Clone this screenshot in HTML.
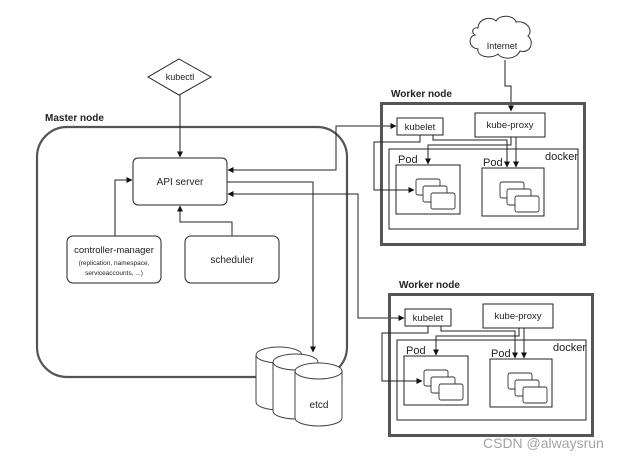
<!DOCTYPE html>
<html><head><meta charset="utf-8"><style>
html,body{margin:0;padding:0;background:#fff;}
svg{display:block;font-family:"Liberation Sans",Arial,sans-serif;}
</style></head><body>
<svg width="618" height="457" viewBox="0 0 618 457" xmlns="http://www.w3.org/2000/svg">
<defs>
<marker id="a" markerWidth="6" markerHeight="6" refX="5.5" refY="3" orient="auto" markerUnits="userSpaceOnUse">
<path d="M0,0 L6,3 L0,6 z" fill="#111"/></marker>
</defs>
<rect width="618" height="457" fill="#fff"/>
<g fill="none" stroke="#222" stroke-width="1">
<!-- master -->
<rect x="37" y="127" width="310" height="250" rx="30" stroke="#555" stroke-width="2.2"/>
<rect x="133" y="158" width="94" height="47" rx="5"/>
<rect x="67" y="236" width="94" height="47" rx="6"/>
<rect x="185" y="236" width="94" height="47" rx="6"/>
<polygon points="179,59 211,77 179,95 148,77"/>
<line x1="180" y1="95" x2="180" y2="157" marker-end="url(#a)"/>
<polyline points="115,236 115,180 132,180" marker-end="url(#a)"/>
<polyline points="232,236 232,222 180,222 180,206" marker-end="url(#a)"/>
<polyline points="396,126 336,126 336,170 228,170" marker-end="url(#a)"/>
<line x1="340" y1="126" x2="396" y2="126" marker-end="url(#a)"/>
<polyline points="227,182 313,182 313,352" marker-end="url(#a)"/>
<polyline points="404,318 358,318 358,194 228,194" marker-end="url(#a)"/>
<line x1="362" y1="318" x2="404" y2="318" marker-end="url(#a)"/>
<!-- etcd -->
<g fill="#fff" stroke="#444">
<path d="M256,355 L256,402 A23,8 0 0 0 302,402 L302,355"/><ellipse cx="279" cy="355" rx="23" ry="8"/>
<path d="M273,362 L273,411 A22.5,8 0 0 0 318,411 L318,362"/><ellipse cx="295.5" cy="362" rx="22.5" ry="8"/>
<path d="M295,371 L295,418 A23.5,8 0 0 0 342,418 L342,371"/><ellipse cx="318.5" cy="371" rx="23.5" ry="8"/>
</g>
<!-- internet cloud -->
<path d="M478,28 C478,18 492,16 496,21 C500,14 514,15 516,22 C526,20 534,30 528,36 C535,42 530,54 520,51 C516,60 502,60 498,54 C490,60 476,56 478,49 C468,48 468,36 475,35 C470,31 474,27 478,28 z" stroke="#333"/>
<polyline points="505,60 505,86 511,86 511,111" marker-end="url(#a)"/>
</g>
<g id="w" fill="none" stroke="#222" stroke-width="1">
<rect x="381.5" y="103.5" width="203" height="141" stroke="#555" stroke-width="3"/>
<rect x="397" y="118" width="46" height="17"/>
<rect x="475" y="113" width="70" height="24"/>
<rect x="389" y="149" width="189" height="80"/>
<rect x="396" y="165" width="64" height="49"/>
<rect x="482" y="168" width="62" height="48"/>
<g fill="#fff" stroke="#333" stroke-width="0.9">
<rect x="416" y="179" width="24" height="16" rx="2"/><rect x="423" y="186" width="24" height="16" rx="2"/><rect x="431" y="193" width="24" height="16" rx="2"/>
<rect x="500" y="182" width="24" height="16" rx="2"/><rect x="507" y="189" width="24" height="16" rx="2"/><rect x="515" y="196" width="24" height="16" rx="2"/>
</g>
<polyline points="420,135 420,142 374,142 374,190 414,190" marker-end="url(#a)"/>
<polyline points="433,135 433,140 507,140 507,167" marker-end="url(#a)"/>
<polyline points="511,137 511,145 428,145 428,164" marker-end="url(#a)"/>
<polyline points="516,137 516,167" marker-end="url(#a)"/>
<g stroke="none" fill="#222" font-size="9.5">
<text x="420" y="130" text-anchor="middle">kubelet</text>
<text x="510" y="128" text-anchor="middle">kube-proxy</text>
<text x="398" y="163" font-size="11">Pod</text>
<text x="483" y="166" font-size="11">Pod</text>
<text x="545" y="160" font-size="11">docker</text>
<text x="391" y="97" font-weight="bold" font-size="10">Worker node</text>
</g>
</g>
<use href="#w" transform="translate(8,191)"/>
<g fill="#222" font-size="10">
<text x="45" y="121" font-weight="bold">Master node</text>
<text x="180" y="185" text-anchor="middle">API server</text>
<text x="114" y="253" text-anchor="middle" font-size="9.5">controller-manager</text>
<text x="114" y="265" text-anchor="middle" font-size="6.5">(replication, namespace,</text>
<text x="114" y="275" text-anchor="middle" font-size="6.5">serviceaccounts, ...)</text>
<text x="232" y="263" text-anchor="middle">scheduler</text>
<text x="180" y="80" text-anchor="middle" font-size="9">kubectl</text>
<text x="502" y="49" text-anchor="middle" font-size="9">Internet</text>
<text x="319" y="408" text-anchor="middle">etcd</text>
</g>
<text x="483" y="448" fill="#999" font-size="14" opacity="0.9">CSDN @alwaysrun</text>
</svg>
</body></html>
